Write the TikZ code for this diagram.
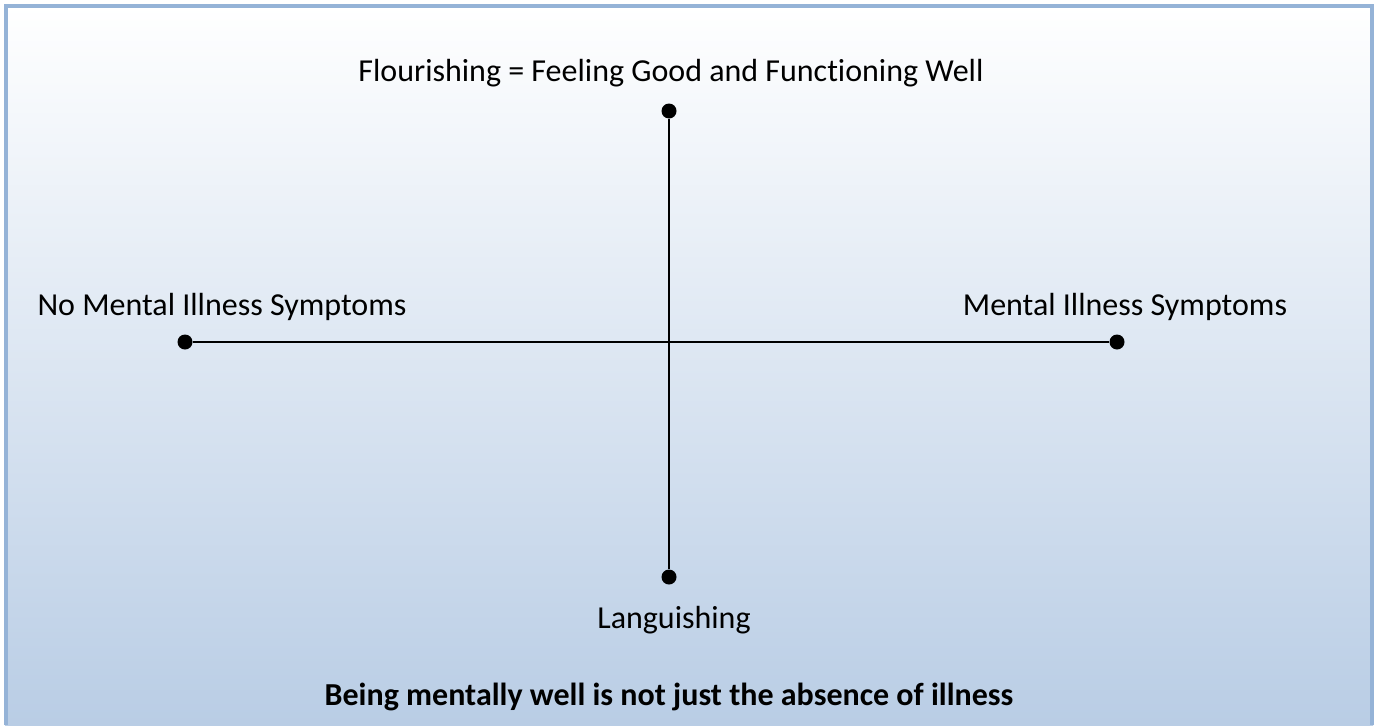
\documentclass[tikz,border=0pt]{standalone}
\usepackage{fontspec}
\setmainfont[Ligatures=NoCommon]{Carlito}
\definecolor{framecol}{HTML}{95B3D7}
\definecolor{bottomcol}{HTML}{B9CDE5}
\tikzset{
  axisline/.style={line width=2.7pt},
  enddot/.style={circle,fill=black,inner sep=0pt,minimum size=15pt},
  lbl/.style={font=\fontsize{32}{38}\selectfont}
}
\begin{document}
\begin{tikzpicture}[x=1pt,y=-1pt]
			\useasboundingbox (0,0) rectangle (1376,726);
			\shade[top color=white,bottom color=bottomcol] (5,5) rectangle (1373,725);
			\draw[framecol,line width=3.5pt] (6,725) -- (6,6) -- (1372,6) -- (1372,725);
			\node[enddot] (top) at (669,111) {};
			\node[enddot] (bot) at (669,577) {};
			\node[enddot] (left) at (185,342) {};
			\node[enddot] (right) at (1117,342) {};
			\draw[axisline] (top) -- (bot);
			\draw[axisline] (left) -- (right);
			\node[lbl] (flour) at (671,73) {Flourishing = Feeling Good and Functioning Well};
			\node[lbl] (nosym) at (222,307) {No Mental Illness Symptoms};
			\node[lbl] (sym) at (1125,307) {Mental Illness Symptoms};
			\node[lbl] (lang) at (674,620) {Languishing};
			\node[lbl,font=\fontsize{32}{38}\selectfont\bfseries] (motto) at (669,697) {Being mentally well is not just the absence of illness};
		\end{tikzpicture}
\end{document}
